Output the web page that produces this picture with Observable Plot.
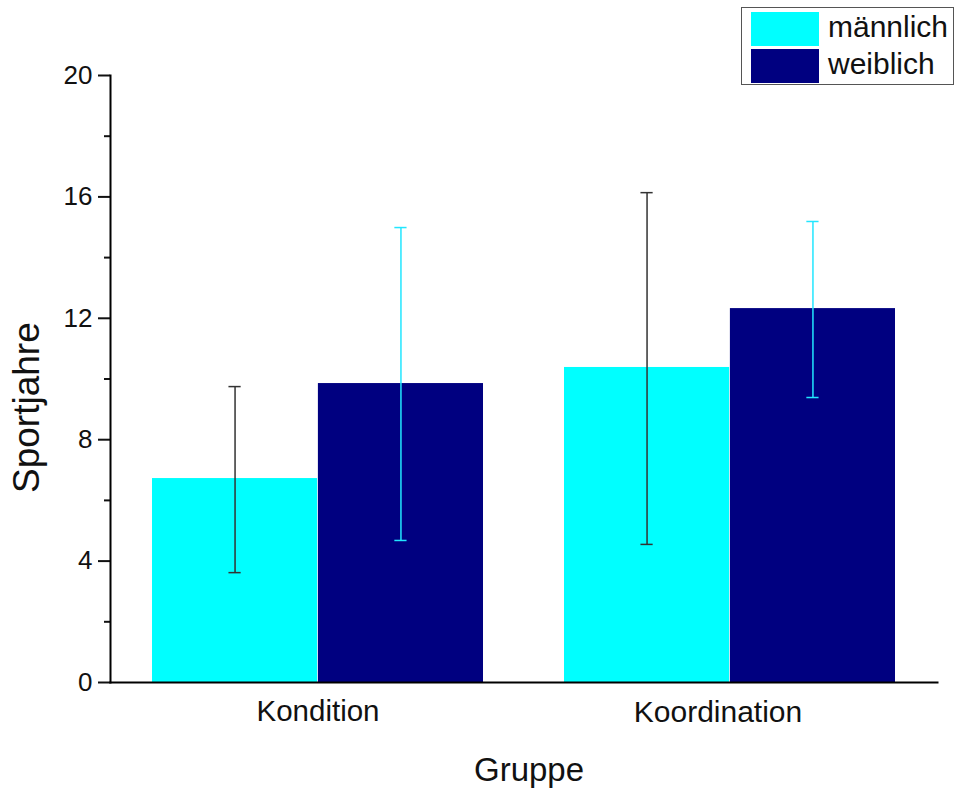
<!DOCTYPE html>
<html><head><meta charset="utf-8">
<script src="https://cdn.jsdelivr.net/npm/d3@7"></script>
<script src="https://cdn.jsdelivr.net/npm/@observablehq/plot@0.6"></script>
<style>
body{margin:0;background:#fff;font-family:"Liberation Sans",Arial,sans-serif}
#wrap{position:relative;width:966px;height:790px}
.legend{position:absolute;left:741px;top:7px;width:213px;height:78px;border:1px solid #555;box-sizing:border-box;background:#fff}
.legend .row{position:absolute;left:9px;height:34px;width:200px}
.legend .sw{position:absolute;left:0;top:0;width:68px;height:34px}
.legend .lb{position:absolute;left:77px;top:-2px;font-size:30px;line-height:34px;color:#111}
</style></head><body>
<div id="wrap"></div>
<script>
const groups = ["Kondition", "Koordination"];
const sexes = ["männlich", "weiblich"];
// order: Kondition männlich, Kondition weiblich, Koordination männlich, Koordination weiblich
const meanValues = [6.72, 9.85, 10.38, 12.32];
const lowValues = [3.62, 4.68, 4.55, 9.39];
const highValues = [9.75, 14.99, 16.14, 15.19];
const barColors = ["#00FFFF", "#000080"];
const errorColors = ["#333333", "#22E6FF"];
const yTicks = [0, 4, 8, 12, 16, 20];
const yMinorTicks = [2, 6, 10, 14, 18];

const data = groups.flatMap((g, i) => sexes.map((s, j) => ({
  group: g, sex: s, mean: meanValues[i * 2 + j], low: lowValues[i * 2 + j], high: highValues[i * 2 + j]
})));

const W = 966, H = 790, ML = 110, MR = 29, MT = 75, MB = 108;
const xOpts = {type: "band", domain: groups, paddingInner: 0.196, paddingOuter: 0.1};
let bw = Plot.scale({x: {...xOpts, range: [ML, W - MR]}}).bandwidth;
if (!bw) bw = (W - MR - ML) / (groups.length - 0.196 + 0.2) * (1 - 0.196);
const capW = 13;

const marks = [];
sexes.forEach((s, j) => {
  const sub = data.filter(d => d.sex === s);
  marks.push(Plot.barY(sub, {x: "group", y: "mean", fill: "sex",
    insetLeft: j === 0 ? 0 : bw / 2, insetRight: j === 0 ? bw / 2 : 0}));
});
sexes.forEach((s, j) => {
  const sub = data.filter(d => d.sex === s);
  const dx = j === 0 ? -bw / 4 : bw / 4;
  marks.push(Plot.ruleX(sub, {x: "group", y1: "low", y2: "high", dx, stroke: errorColors[j], strokeWidth: 1.5}));
  for (const key of ["low", "high"]) {
    marks.push(Plot.tickY(sub, {x: "group", y: key, dx, stroke: errorColors[j], strokeWidth: 1.5,
      insetLeft: (bw - capW) / 2, insetRight: (bw - capW) / 2}));
  }
});
marks.push(
  Plot.axisY({ticks: yTicks, tickSize: 12, tickPadding: 6, fontSize: 26, strokeWidth: 2, label: null}),
  Plot.axisY({ticks: yMinorTicks, tickSize: 6, tickFormat: () => "", strokeWidth: 2, label: null}),
  Plot.axisX({ticks: [groups[0]], tickSize: 0, tickPadding: 18, fontSize: 29.5, label: null}),
  Plot.axisX({ticks: [groups[1]], tickSize: 0, tickPadding: 18, fontSize: 30, dx: -12, label: null}),
  Plot.frame({anchor: "left", strokeWidth: 2, stroke: "black"}),
  Plot.frame({anchor: "bottom", strokeWidth: 2, stroke: "black"}),
  Plot.text(["Gruppe"], {frameAnchor: "bottom", dx: 5, dy: 98, fontSize: 33, fill: "#111"}),
  Plot.text(["Sportjahre"], {frameAnchor: "left", rotate: -90, dx: -83, dy: 114, fontSize: 37, fill: "#111"})
);

const svg = Plot.plot({
  width: W, height: H,
  marginLeft: ML, marginRight: MR, marginTop: MT, marginBottom: MB,
  style: {fontFamily: "'Liberation Sans', Arial, sans-serif", color: "#111", background: "transparent"},
  x: {...xOpts, label: null},
  y: {domain: [0, 20], label: null},
  color: {domain: sexes, range: barColors},
  marks
});
const wrap = document.getElementById("wrap");
wrap.appendChild(svg);

const legend = document.createElement("div");
legend.className = "legend";
sexes.forEach((s, j) => {
  const row = document.createElement("div");
  row.className = "row";
  row.style.top = (4 + j * 37) + "px";
  row.innerHTML = `<div class="sw" style="background:${barColors[j]}"></div><div class="lb">${s}</div>`;
  legend.appendChild(row);
});
wrap.appendChild(legend);
</script>
</body></html>
